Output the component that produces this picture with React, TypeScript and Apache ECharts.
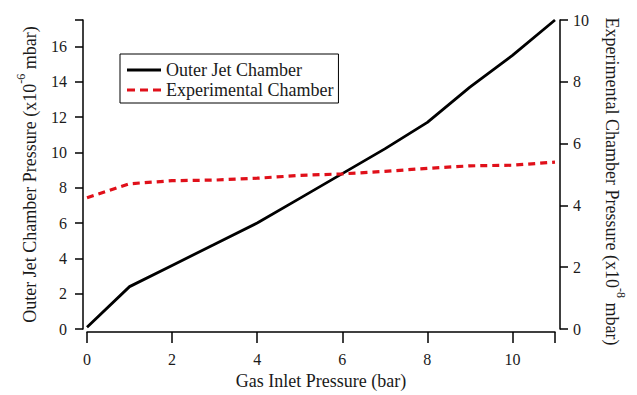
import React, { useEffect, useRef } from "react";
import * as echarts from "echarts";

const gasInlet = [0, 1, 2, 3, 4, 5, 6, 7, 8, 9, 10, 11];
const outerJet = [0.1, 2.4, 3.6, 4.8, 6.0, 7.4, 8.8, 10.2, 11.7, 13.7, 15.5, 17.5];
const experimental = [4.25, 4.7, 4.8, 4.82, 4.88, 4.97, 5.02, 5.1, 5.2, 5.28, 5.3, 5.4];
const leftTicks = [0, 2, 4, 6, 8, 10, 12, 14, 16];
const rightTicks = [0, 2, 4, 6, 8, 10];
const xTicks = [0, 2, 4, 6, 8, 10];

const FONT = "Liberation Serif";
const TXT = "#1a1a1a";
const RED = "#e0101a";

export default function App() {
  const ref = useRef<HTMLDivElement>(null);
  useEffect(() => {
    if (!ref.current) return;
    const chart = echarts.init(ref.current, null, { renderer: "svg" });
    const axisLine = { show: true, onZero: false, lineStyle: { color: "#000", width: 1.5 } };
    const axisTick = { show: true, length: 8, lineStyle: { color: "#000", width: 1.5 } };
    const richName = (pad: number[]) => ({
      fontFamily: FONT,
      fontSize: 18,
      color: TXT,
      padding: pad,
      rich: {
        t: { fontFamily: FONT, fontSize: 18, color: TXT, lineHeight: 24, verticalAlign: "bottom" },
        s: { fontFamily: FONT, fontSize: 12, color: TXT, lineHeight: 24, verticalAlign: "top" },
      },
    });
    chart.setOption({
      animation: false,
      backgroundColor: "#fff",
      textStyle: { fontFamily: FONT },
      grid: { left: 87, right: 82, top: 20, bottom: 65, containLabel: false },
      legend: {
        left: 120,
        top: 54,
        orient: "vertical",
        itemWidth: 34,
        itemHeight: 3,
        itemGap: 0,
        padding: [6, 5, 3, 7],
        borderColor: "#000",
        borderWidth: 1,
        borderRadius: 0,
        backgroundColor: "#fff",
        textStyle: { fontFamily: FONT, fontSize: 18, color: TXT, lineHeight: 20 },
        data: [
          { name: "Outer Jet Chamber", icon: "rect", itemStyle: { color: "#000" } },
          {
            name: "Experimental Chamber",
            icon: "path://M0,0h8v3h-8z M13,0h8v3h-8z M26,0h8v3h-8z",
            itemStyle: { color: RED },
          },
        ],
      },
      xAxis: {
        type: "value",
        min: 0,
        max: 11,
        interval: 2,
        offset: 3,
        axisLine,
        axisTick: { ...axisTick, length: 11 },
        splitLine: { show: false },
        axisLabel: {
          fontFamily: FONT,
          fontSize: 16,
          color: TXT,
          margin: 19,
          formatter: (v: number) => (xTicks.includes(v) ? String(v) : ""),
        },
        name: "Gas Inlet Pressure (bar)",
        nameLocation: "middle",
        nameGap: 40,
        nameTextStyle: { fontFamily: FONT, fontSize: 18, color: TXT },
      },
      yAxis: [
        {
          type: "value",
          position: "left",
          min: 0,
          max: 17.5,
          interval: 2,
          offset: 4,
          axisLine,
          axisTick,
          splitLine: { show: false },
          axisLabel: {
            fontFamily: FONT,
            fontSize: 16,
            color: TXT,
            margin: 16,
            formatter: (v: number) => (leftTicks.includes(v) ? String(v) : ""),
          },
          name: "{t|Outer Jet Chamber Pressure (x10}{s|-6}{t| mbar)}",
          nameLocation: "middle",
          nameRotate: 90,
          nameGap: 44,
          nameTextStyle: richName([0, 0, 0, 0]),
        },
        {
          type: "value",
          position: "right",
          min: 0,
          max: 10,
          interval: 2,
          offset: 5,
          axisLine,
          axisTick,
          splitLine: { show: false },
          axisLabel: {
            fontFamily: FONT,
            fontSize: 16,
            color: TXT,
            margin: 13,
            formatter: (v: number) => (rightTicks.includes(v) ? String(v) : ""),
          },
          name: "{t|Experimental Chamber Pressure (x10}{s|-8}{t| mbar)}",
          nameLocation: "middle",
          nameRotate: -90,
          nameGap: 43,
          nameTextStyle: richName([0, 0, 0, 14]),
        },
      ],
      series: [
        {
          name: "Outer Jet Chamber",
          type: "line",
          yAxisIndex: 0,
          symbol: "none",
          color: "#000",
          lineStyle: { color: "#000", width: 2.8 },
          data: gasInlet.map((x, i) => [x, outerJet[i]]),
        },
        {
          name: "Experimental Chamber",
          type: "line",
          yAxisIndex: 1,
          symbol: "none",
          color: RED,
          lineStyle: { color: RED, width: 3.2, type: [7, 5] },
          data: gasInlet.map((x, i) => [x, experimental[i]]),
        },
      ],
    });
    return () => chart.dispose();
  }, []);
  return <div ref={ref} style={{ width: 637, height: 395, position: "absolute", left: 0, top: 0 }} />;
}
